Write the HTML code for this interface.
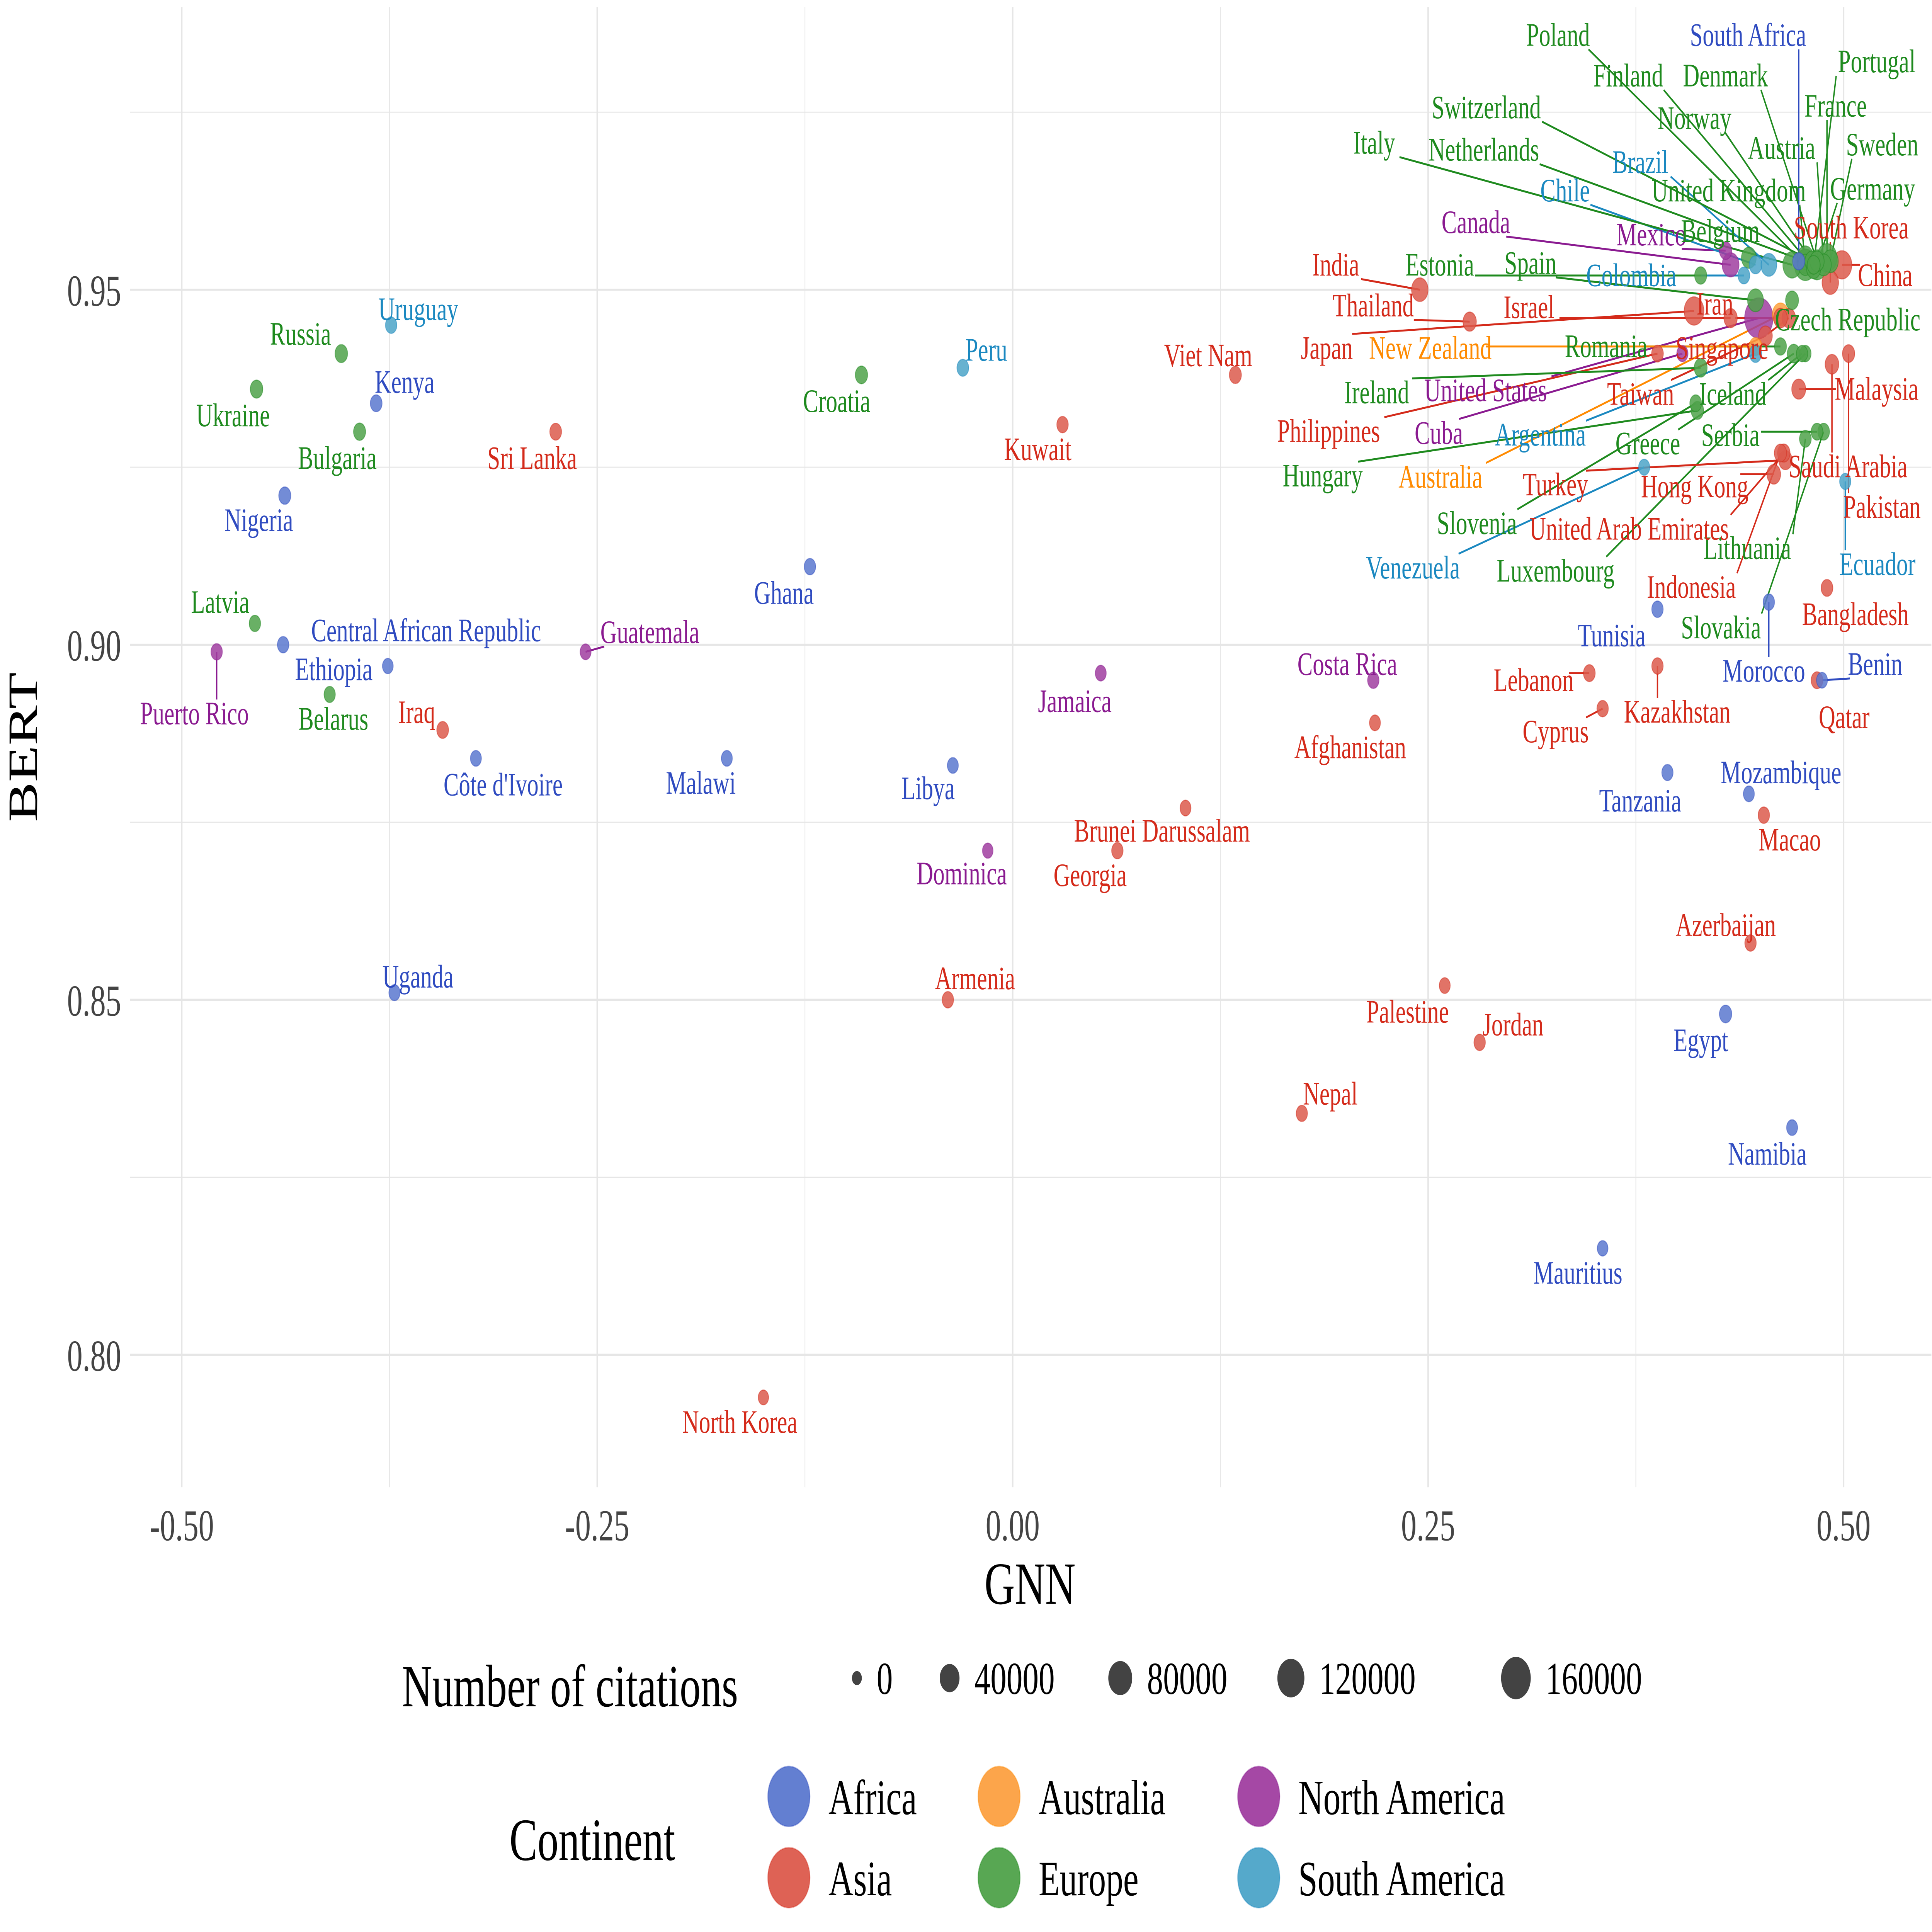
<!DOCTYPE html>
<html><head><meta charset="utf-8">
<style>
html,body{margin:0;padding:0;background:#fff;width:100%;height:100%;overflow:hidden;}
svg{display:block;position:fixed;left:0;top:0;width:100vw;height:100vh;}
text{font-family:"Liberation Serif",serif;}
</style></head>
<body>
<svg id="chart" viewBox="0 0 1562.5 1093.75" preserveAspectRatio="none" overflow="hidden" xmlns="http://www.w3.org/2000/svg">
<rect x="0" y="0" width="1562.5" height="1093.75" fill="#fff"/>
<g id="grid"></g>
<g id="axes"></g>
<g id="lines"></g>
<g id="points"></g>
<g id="labels"></g>
<g id="legend"></g>
</svg>
<script>
const countries = ["Uruguay","Russia","Ukraine","Kenya","Bulgaria","Nigeria","Latvia","Central African Republic","Ethiopia","Puerto Rico","Belarus","Iraq","Côte d'Ivoire","Sri Lanka","Guatemala","Uganda","Malawi","Ghana","Croatia","Peru","Libya","Dominica","Kuwait","Jamaica","Brunei Darussalam","Georgia","Armenia","North Korea","Viet Nam","Costa Rica","Afghanistan","Nepal","Palestine","Jordan","India","Thailand","Lebanon","Cyprus","Kazakhstan","Tunisia","Tanzania","Mauritius","Egypt","Namibia","Azerbaijan","Macao","Mozambique","Morocco","Benin","Qatar","Bangladesh","Ecuador","Pakistan","Saudi Arabia","Malaysia","Hong Kong","Indonesia","Slovakia","Lithuania","Luxembourg","United Arab Emirates","Slovenia","Turkey","Venezuela","Hungary","Australia","Serbia","Greece","Argentina","Cuba","Philippines","Taiwan","Iceland","United States","Ireland","Czech Republic","Singapore","Romania","New Zealand","Iran","Israel","Spain","Colombia","China","South Korea","Mexico","Belgium","Canada","Chile","Italy","Netherlands","Brazil","United Kingdom","Germany","Austria","Sweden","Switzerland","France","Norway","Finland","Denmark","Poland","South Africa","Portugal","Japan","Estonia"];
const continents = ["SA","EU","EU","AF","EU","AF","EU","AF","AF","NA","EU","AS","AF","AS","NA","AF","AF","AF","EU","SA","AF","NA","AS","NA","AS","AS","AS","AS","AS","NA","AS","AS","AS","AS","AS","AS","AS","AS","AS","AF","AF","AF","AF","AF","AS","AS","AF","AF","AF","AS","AS","SA","AS","AS","AS","AS","AS","EU","EU","EU","AS","EU","AS","SA","EU","AU","EU","EU","SA","NA","AS","AS","EU","NA","EU","EU","AS","EU","AU","AS","AS","EU","SA","AS","AS","NA","EU","NA","SA","EU","EU","SA","EU","EU","EU","EU","EU","EU","EU","EU","EU","EU","AF","EU","AS","EU"];
const gnn = [-0.374,-0.404,-0.455,-0.383,-0.393,-0.438,-0.456,-0.376,-0.439,-0.479,-0.411,-0.343,-0.323,-0.275,-0.257,-0.372,-0.172,-0.122,-0.091,-0.030,-0.036,-0.015,0.030,0.053,0.104,0.063,-0.039,-0.150,0.134,0.217,0.218,0.174,0.260,0.281,0.245,0.275,0.347,0.355,0.388,0.388,0.394,0.355,0.429,0.469,0.444,0.452,0.443,0.455,0.487,0.484,0.490,0.501,0.503,0.493,0.473,0.458,0.462,0.488,0.477,0.477,0.464,0.411,0.465,0.380,0.412,0.462,0.484,0.470,0.447,0.403,0.388,0.453,0.475,0.449,0.414,0.469,0.467,0.462,0.447,0.462,0.432,0.447,0.440,0.499,0.492,0.429,0.443,0.432,0.447,0.469,0.477,0.455,0.477,0.484,0.488,0.492,0.477,0.490,0.481,0.482,0.484,0.477,0.473,0.482,0.410,0.414];
const bert = [0.945,0.941,0.936,0.934,0.930,0.921,0.903,0.897,0.900,0.899,0.893,0.888,0.884,0.930,0.899,0.851,0.884,0.911,0.938,0.939,0.883,0.871,0.931,0.896,0.877,0.871,0.850,0.794,0.938,0.895,0.889,0.834,0.852,0.844,0.950,0.9455,0.896,0.891,0.897,0.905,0.882,0.815,0.848,0.832,0.858,0.876,0.879,0.906,0.895,0.895,0.908,0.923,0.941,0.9395,0.936,0.924,0.927,0.930,0.929,0.941,0.927,0.934,0.926,0.925,0.933,0.9465,0.930,0.941,0.941,0.941,0.941,0.9435,0.941,0.946,0.939,0.9485,0.946,0.942,0.942,0.946,0.946,0.9485,0.952,0.9535,0.951,0.9555,0.9545,0.9535,0.9535,0.9535,0.954,0.9535,0.9535,0.9535,0.9535,0.954,0.9545,0.9545,0.954,0.953,0.954,0.9535,0.954,0.9535,0.947,0.952];
const citations = [1000,3000,3000,1500,2000,2000,1000,300,1000,1000,800,1500,500,1500,500,700,500,1000,2500,1500,500,200,1000,500,500,1000,1000,100,2000,1000,500,800,500,1000,18000,5000,1500,1000,1000,1000,800,300,2500,500,1000,1000,500,1000,500,1500,1500,800,2500,6000,7000,6000,2500,1500,1500,1000,3000,1500,5000,700,3000,16000,1500,4000,2500,800,1500,6000,1000,140000,4000,4000,6000,2000,3000,6000,5000,15000,1500,40000,18000,2500,10000,20000,3000,30000,20000,15000,60000,50000,12000,15000,18000,40000,8000,8000,8000,10000,2000,4000,40000,2000];
const labelDx = [22,-33,-19,23,-18,-21,-28,31,41,-18,3,-21,22,-19,52,19,-21,-21,-20,19,-20,-21,-20,-21,-19,-22,22,-19,-22,-21,-20,23,-30,27,-68,-78,-45,-38,16,-37,-22,-20,-20,-20,-20,21,26,-4,43,22,23,26,27,13,63,-64,-72,-83,-47,-202,-125,-177,-186,-187,-303,-275,-70,-118,-174,-197,-266,-101,-56,-221,-262,45,-54,-141,-263,-53,-163,-182,-91,35,17,-60,-23,-206,-154,-338,-260,-104,-62,45,-34,42,-258,7,-95,-150,-74,-200,-41,51,-297,-211];
const labelDy = [-9,-11,15,-12,15,14,-12,-20,14,35,14,-10,15,15,-11,-9,14,15,15,-10,13,13,14,16,13,14,-12,14,-11,-9,14,-11,15,-10,-14,-9,4,13,26,15,16,14,15,15,-10,14,-12,39,-9,21,15,47,87,58,0,7,76,111,62,123,43,68,14,57,37,92,2,51,46,45,44,33,23,41,14,11,17,0,1,-8,-6,-21,0,6,-31,-9,-15,-24,-42,-69,-63,-58,-42,-43,-66,-66,-85,-86,-81,-109,-105,-130,-128,-115,21,-6];
const contKeys = ["AF","AS","AU","EU","NA","SA"];
const contNames = ["Africa","Asia","Australia","Europe","North America","South America"];
const sizeBreaks = [0,40000,80000,120000,160000];
const xTicks = [-0.5,-0.25,0,0.25,0.5];
const xTickLabels = ["-0.50","-0.25","0.00","0.25","0.50"];
const yTicks = [0.80,0.85,0.90,0.95];
const yTickLabels = ["0.80","0.85","0.90","0.95"];

const fill = {AF:"#5b78cf",AS:"#dc5a4c",AU:"#fca041",EU:"#4fa24a",NA:"#a03ea0",SA:"#4ca4c8"};
const dark = {AF:"#2f4bc0",AS:"#d42a1a",AU:"#ff8a00",EU:"#1e8a1e",NA:"#8a1a90",SA:"#1a88c0"};
const NS="http://www.w3.org/2000/svg";
const L=105,R=1562,T=4,B=842;
const xs = v => 819 + (v)*1344;
const ys = v => 164 + (0.95 - v)*4020;
const rs = c => 4 + 8*Math.sqrt(c/160000);
function mk(parent,tag,attrs){const e=document.createElementNS(NS,tag);for(const k in attrs)e.setAttribute(k,attrs[k]);parent.appendChild(e);return e;}

const grid=document.getElementById('grid');
for(let v=-0.625; v<=0.626; v+=0.125){
  const major = Math.abs(Math.round(v*8))%2===0;
  const x=xs(v); if(x<L||x>R) continue;
  const ln=mk(grid,'line',{x1:x,x2:x,y1:T,y2:B,stroke:'#e6e6e6','stroke-width':major?1.2:0.6});
  
  
}
for(let v=0.775; v<=0.9751; v+=0.025){
  const major = Math.round(v*1000)%50===0;
  const y=ys(v); if(y<T||y>B) continue;
  const ln=mk(grid,'line',{x1:L,x2:R,y1:y,y2:y,stroke:'#e6e6e6','stroke-width':major?1.2:0.6});
  
  
}
const axes=document.getElementById('axes');
xTicks.forEach((v,i)=>{const t=mk(axes,'text',{x:xs(v),y:872,'text-anchor':'middle','font-size':25,fill:'#444'});t.textContent=xTickLabels[i];
  
  });
yTicks.forEach((v,i)=>{const t=mk(axes,'text',{x:98,y:ys(v)+9,'text-anchor':'end','font-size':25,fill:'#444'});t.textContent=yTickLabels[i];
  
  });
let t=mk(axes,'text',{x:833,y:908,'text-anchor':'middle','font-size':34,fill:'#000'});t.textContent='GNN';


t=mk(axes,'text',{x:0,y:0,'text-anchor':'middle','font-size':34,fill:'#000',transform:'translate(30,423) rotate(-90)'});t.textContent='BERT';



const pts=document.getElementById('points'), lbls=document.getElementById('labels'), lines=document.getElementById('lines');
const order = countries.map((_,i)=>i).sort((a,b)=>citations[b]-citations[a]);
order.forEach(i=>{
  const c=mk(pts,'circle',{cx:xs(gnn[i]),cy:ys(bert[i]),r:rs(citations[i]),fill:fill[continents[i]],'fill-opacity':0.85,stroke:dark[continents[i]],'stroke-opacity':0.5,'stroke-width':0.6});
  
  
});
countries.forEach((n,i)=>{
  const px=xs(gnn[i]), py=ys(bert[i]);
  const lx=px+labelDx[i], ly=py+labelDy[i];
  const tx=mk(lbls,'text',{x:lx,y:ly+6,'text-anchor':'middle','font-size':18.5,fill:dark[continents[i]]});
  tx.textContent=n;
  
  
  const w=n.length*8.2;
  const ex=Math.max(lx-w/2,Math.min(px,lx+w/2)), ey=Math.max(ly-8,Math.min(py,ly+8));
  const d=Math.hypot(ex-px,ey-py);
  if(d>14){
    const ln=mk(lines,'line',{x1:px,y1:py,x2:ex,y2:ey,stroke:dark[continents[i]],'stroke-width':1.1});
    
    
  }
});

const lg=document.getElementById('legend');
t=mk(lg,'text',{x:325,y:966,'font-size':34,fill:'#000'});t.textContent='Number of citations';


const sizeX=[693,768,906,1044,1226];
sizeBreaks.forEach((v,i)=>{
  const c=mk(lg,'circle',{cx:sizeX[i],cy:950,r:rs(v),fill:'#333','fill-opacity':0.92});
  
  
  const tt=mk(lg,'text',{x:sizeX[i]+rs(v)+12,y:959,'font-size':26,fill:'#000'});tt.textContent=String(v);
  
  
});
t=mk(lg,'text',{x:412,y:1053,'font-size':34,fill:'#000'});t.textContent='Continent';


const colX=[638,808,1018];
contKeys.forEach((k,i)=>{
  const col=Math.floor(i/2), row=i%2;
  const cx=colX[col], cy=1017+row*46;
  const c=mk(lg,'circle',{cx:cx,cy:cy,r:17,fill:fill[k],'fill-opacity':0.95,stroke:dark[k],'stroke-opacity':0.4,'stroke-width':0.8});
  
  
  const tt=mk(lg,'text',{x:cx+32,y:cy+10,'font-size':28,fill:'#000'});tt.textContent=contNames[i];
  
  
});
</script>
</body></html>
